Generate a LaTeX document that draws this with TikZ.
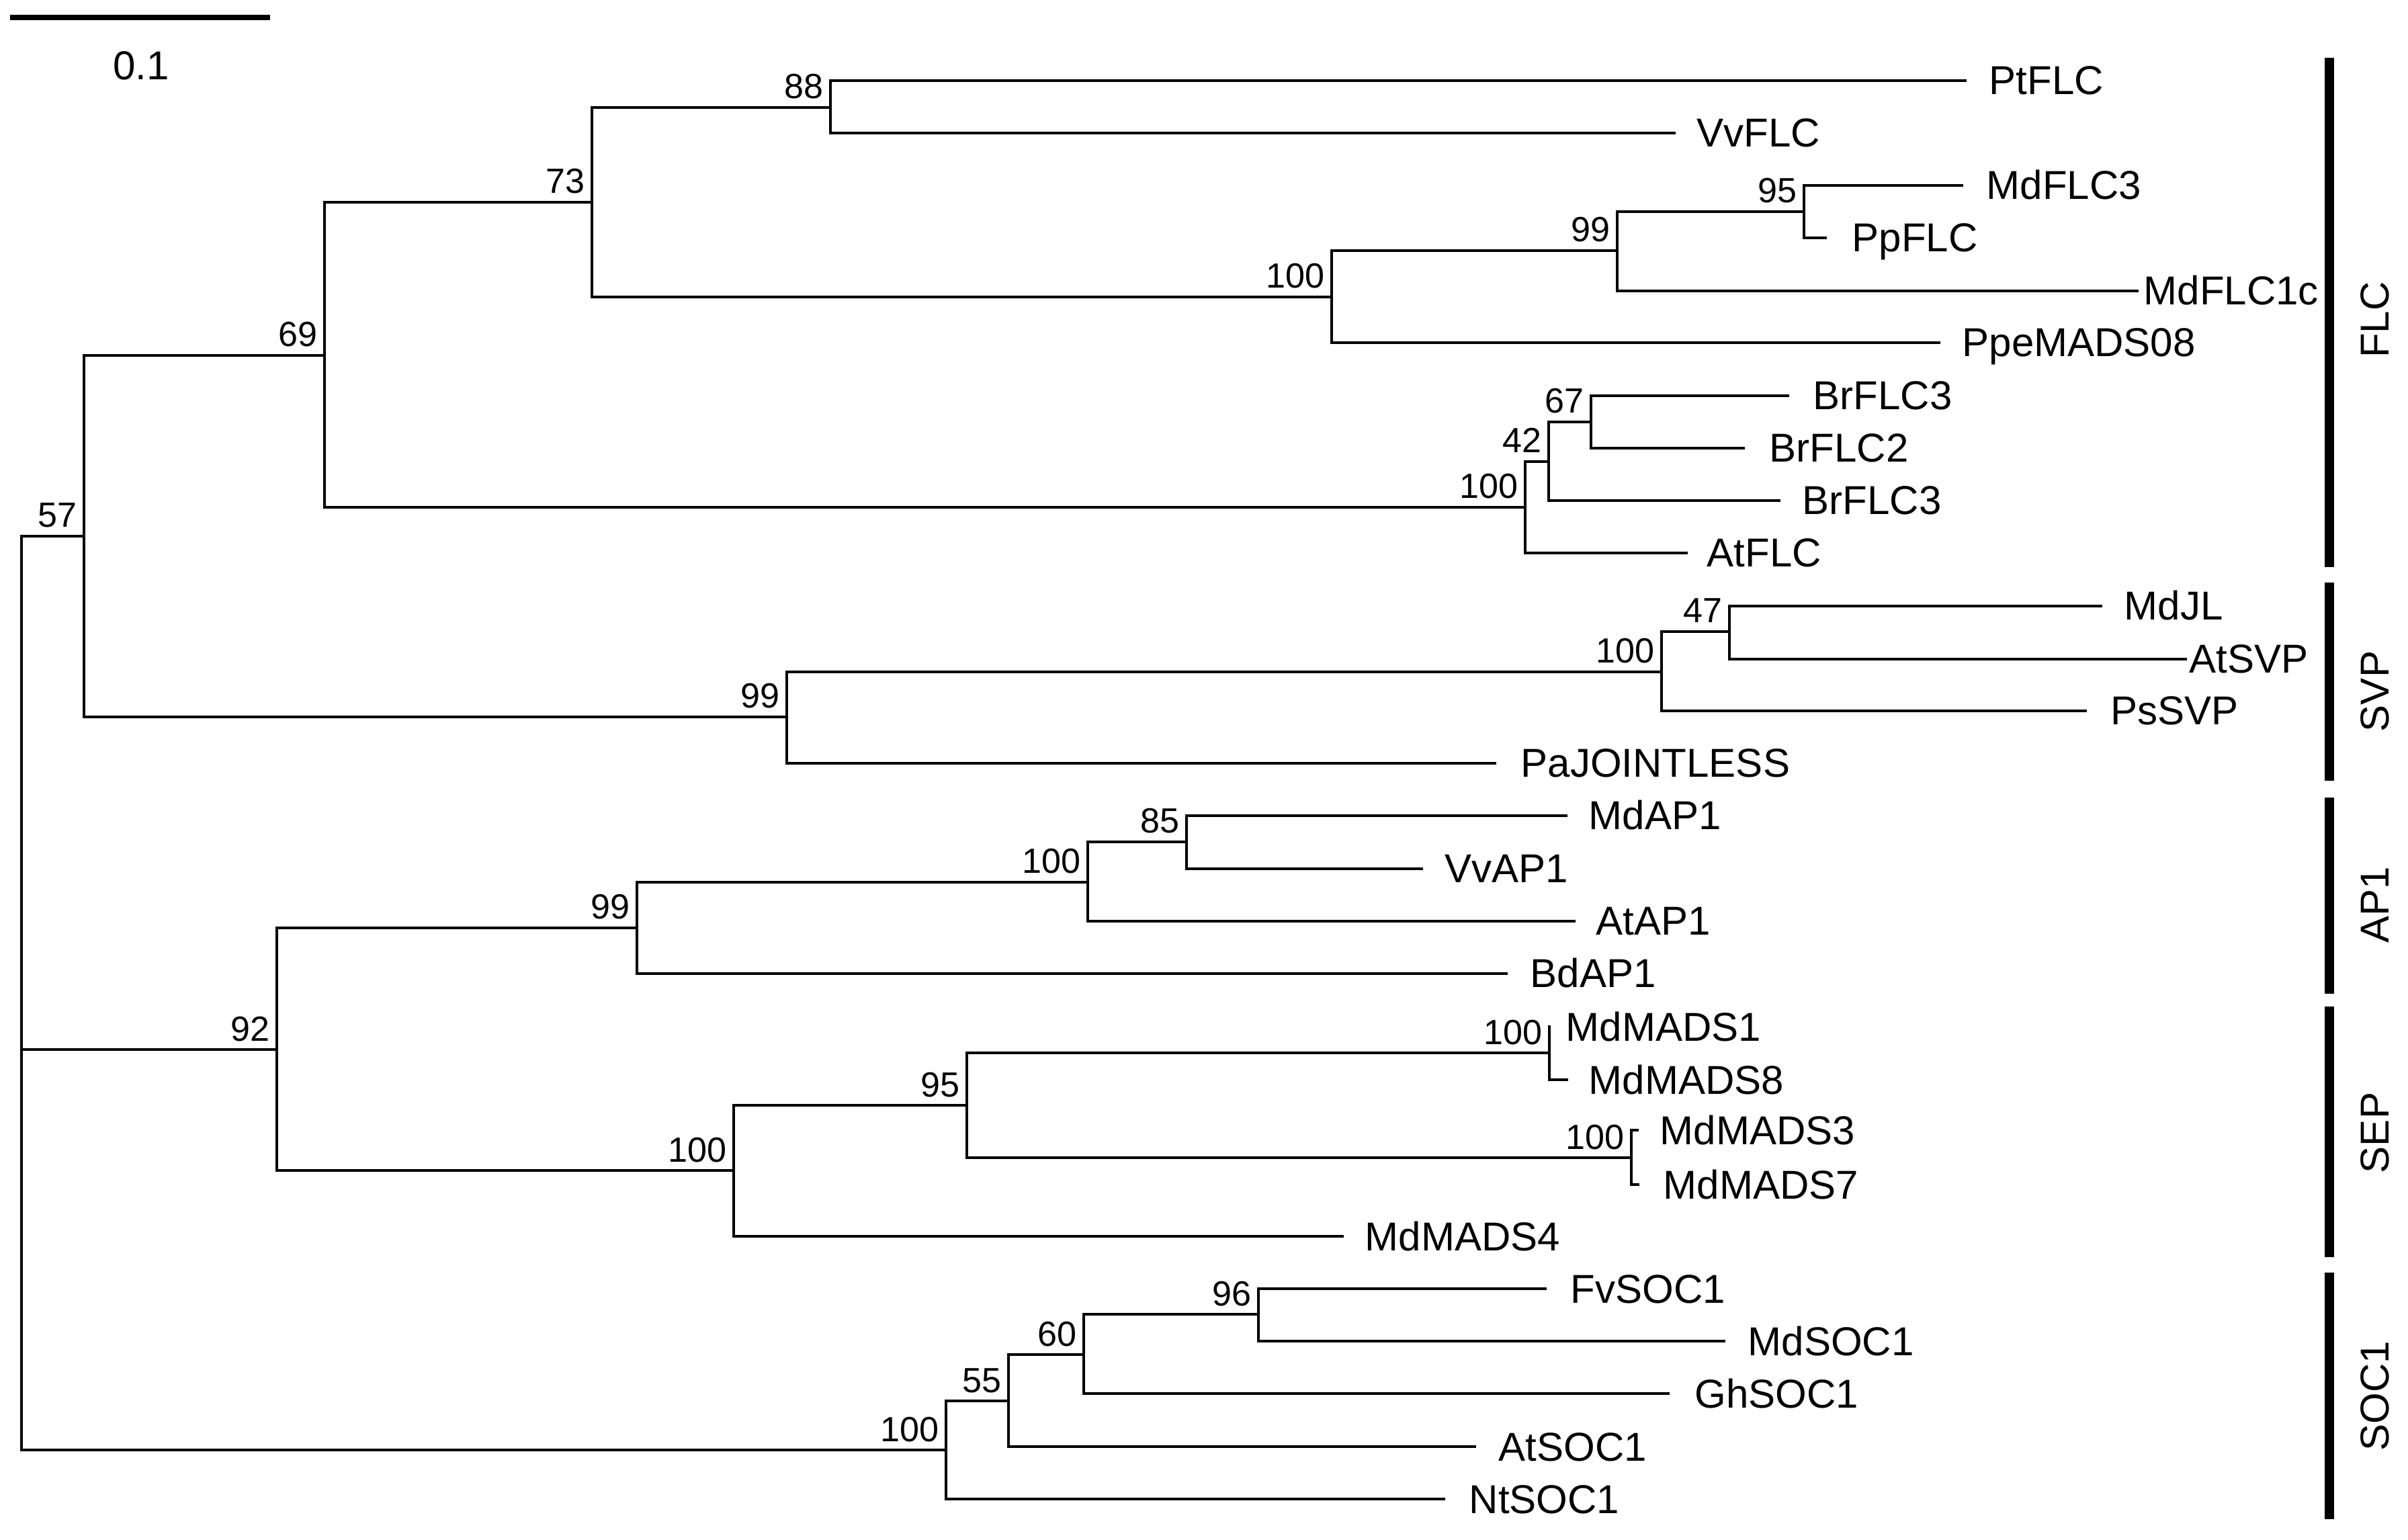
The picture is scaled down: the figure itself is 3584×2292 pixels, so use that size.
\documentclass[tikz,border=0pt]{standalone}
\usepackage{fontspec}
\setmainfont{Liberation Sans}
\newcommand\leaffont{\fontsize{17.07}{20}\selectfont}
\newcommand\bsfont{\fontsize{14.8}{17}\selectfont}
\tikzset{
  branch/.style={line width=1.3pt, line join=miter, line cap=rect},
  scalebar/.style={line width=2.3pt},
  cladebar/.style={line width=3.9pt},
  leaflab/.style={anchor=base west, inner sep=0pt, font=\leaffont},
  bslab/.style={anchor=base east, inner sep=0pt, font=\bsfont},
  cladelab/.style={rotate=90, inner sep=0pt, font=\leaffont},
}
\newcommand\leaf[5]{%
  \coordinate (#1) at (#2,#3);
  \node[leaflab] (#1L) at (#4-3,#3+21) {#5};}
\newcommand\bsl[2]{\node[bslab] (#1B) at ([shift={(-10,-13)}]#1) {#2};}
\begin{document}
\begin{tikzpicture}[x=0.01cm, y=-0.01cm]
\useasboundingbox (0,0) rectangle (3584,2292);
% scale bar
\coordinate (sbL) at (15,26);
\coordinate (sbR) at (402,26);
\draw[scalebar] (sbL) -- (sbR);
\node[anchor=base, inner sep=0pt, font=\leaffont] (sbT) at (210,119) {0.1};
% internal nodes
\coordinate (root) at (32,1562);
\coordinate (n57) at (125,798);
\coordinate (n69) at (483,529);
\coordinate (n73) at (881,301);
\coordinate (n88) at (1236,160);
\coordinate (n100f) at (1982,442);
\coordinate (n99f) at (2407,373);
\coordinate (n95f) at (2685,315);
\coordinate (n100b) at (2270,755);
\coordinate (n42) at (2305,687);
\coordinate (n67) at (2368,628);
\coordinate (n99s) at (1171,1067);
\coordinate (n100s) at (2473,1000);
\coordinate (n47) at (2574,940);
\coordinate (n92) at (412,1562);
\coordinate (n99a) at (948,1381);
\coordinate (n100a) at (1619,1313);
\coordinate (n85) at (1766,1253);
\coordinate (n100sep) at (1092,1742);
\coordinate (n95s) at (1439,1645);
\coordinate (n100ma) at (2306,1567);
\coordinate (n100mb) at (2428,1723);
\coordinate (nsoc) at (1408,2158);
\coordinate (n55) at (1501,2085);
\coordinate (n60) at (1613,2016);
\coordinate (n96) at (1873,1956);
% leaves: name, tip x, y, label x, text
\leaf{PtFLC}{2925}{120}{2963}{PtFLC}
\leaf{VvFLC}{2492}{198}{2528}{VvFLC}
\leaf{MdFLCiii}{2920}{276}{2959}{MdFLC3}
\leaf{PpFLC}{2717}{354}{2759}{PpFLC}
\leaf{MdFLCic}{3181}{433}{3193}{MdFLC1c}
\leaf{PpeMADS}{2886}{510}{2923}{PpeMADS08}
\leaf{BrFLCa}{2661}{589}{2701}{BrFLC3}
\leaf{BrFLCb}{2595}{667}{2636}{BrFLC2}
\leaf{BrFLCc}{2648}{745}{2685}{BrFLC3}
\leaf{AtFLC}{2510}{823}{2543}{AtFLC}
\leaf{MdJL}{3127}{902}{3164}{MdJL}
\leaf{AtSVP}{3253}{981}{3261}{AtSVP}
\leaf{PsSVP}{3104}{1058}{3144}{PsSVP}
\leaf{PaJ}{2225}{1136}{2266}{PaJOINTLESS}
\leaf{MdAP}{2331}{1214}{2367}{MdAP1}
\leaf{VvAP}{2116}{1293}{2153}{VvAP1}
\leaf{AtAP}{2343}{1371}{2378}{AtAP1}
\leaf{BdAP}{2242}{1449}{2280}{BdAP1}
\leaf{MdMi}{2306}{1528}{2333}{MdMADS1}
\leaf{MdMviii}{2332}{1607}{2367}{MdMADS8}
\leaf{MdMiii}{2437}{1682}{2473}{MdMADS3}
\leaf{MdMvii}{2438}{1763}{2478}{MdMADS7}
\leaf{MdMiv}{1998}{1840}{2034}{MdMADS4}
\leaf{FvSOC}{2300}{1918}{2340}{FvSOC1}
\leaf{MdSOC}{2566}{1996}{2604}{MdSOC1}
\leaf{GhSOC}{2483}{2074}{2525}{GhSOC1}
\leaf{AtSOC}{2195}{2153}{2233}{AtSOC1}
\leaf{NtSOC}{2149}{2231}{2189}{NtSOC1}
% branches
\draw[branch] (root) |- (n57);
\draw[branch] (root) |- (n92);
\draw[branch] (root) |- (nsoc);
\draw[branch] (n57) |- (n69);
\draw[branch] (n57) |- (n99s);
\draw[branch] (n69) |- (n73);
\draw[branch] (n69) |- (n100b);
\draw[branch] (n73) |- (n88);
\draw[branch] (n73) |- (n100f);
\draw[branch] (n88) |- (PtFLC);
\draw[branch] (n88) |- (VvFLC);
\draw[branch] (n100f) |- (n99f);
\draw[branch] (n100f) |- (PpeMADS);
\draw[branch] (n99f) |- (n95f);
\draw[branch] (n99f) |- (MdFLCic);
\draw[branch] (n95f) |- (MdFLCiii);
\draw[branch] (n95f) |- (PpFLC);
\draw[branch] (n100b) |- (n42);
\draw[branch] (n100b) |- (AtFLC);
\draw[branch] (n42) |- (n67);
\draw[branch] (n42) |- (BrFLCc);
\draw[branch] (n67) |- (BrFLCa);
\draw[branch] (n67) |- (BrFLCb);
\draw[branch] (n99s) |- (n100s);
\draw[branch] (n99s) |- (PaJ);
\draw[branch] (n100s) |- (n47);
\draw[branch] (n100s) |- (PsSVP);
\draw[branch] (n47) |- (MdJL);
\draw[branch] (n47) |- (AtSVP);
\draw[branch] (n92) |- (n99a);
\draw[branch] (n92) |- (n100sep);
\draw[branch] (n99a) |- (n100a);
\draw[branch] (n99a) |- (BdAP);
\draw[branch] (n100a) |- (n85);
\draw[branch] (n100a) |- (AtAP);
\draw[branch] (n85) |- (MdAP);
\draw[branch] (n85) |- (VvAP);
\draw[branch] (n100sep) |- (n95s);
\draw[branch] (n100sep) |- (MdMiv);
\draw[branch] (n95s) |- (n100ma);
\draw[branch] (n95s) |- (n100mb);
\draw[branch] (n100ma) |- (MdMi);
\draw[branch] (n100ma) |- (MdMviii);
\draw[branch] (n100mb) |- (MdMiii);
\draw[branch] (n100mb) |- (MdMvii);
\draw[branch] (nsoc) |- (n55);
\draw[branch] (nsoc) |- (NtSOC);
\draw[branch] (n55) |- (n60);
\draw[branch] (n55) |- (AtSOC);
\draw[branch] (n60) |- (n96);
\draw[branch] (n60) |- (GhSOC);
\draw[branch] (n96) |- (FvSOC);
\draw[branch] (n96) |- (MdSOC);
% bootstrap values
\bsl{n57}{57}
\bsl{n69}{69}
\bsl{n73}{73}
\bsl{n88}{88}
\bsl{n100f}{100}
\bsl{n99f}{99}
\bsl{n95f}{95}
\bsl{n100b}{100}
\bsl{n42}{42}
\bsl{n67}{67}
\bsl{n99s}{99}
\bsl{n100s}{100}
\bsl{n47}{47}
\bsl{n92}{92}
\bsl{n99a}{99}
\bsl{n100a}{100}
\bsl{n85}{85}
\bsl{n100sep}{100}
\bsl{n95s}{95}
\bsl{n100ma}{100}
\bsl{n100mb}{100}
\bsl{nsoc}{100}
\bsl{n55}{55}
\bsl{n60}{60}
\bsl{n96}{96}
% clade bars
\coordinate (flcT) at (3467,86);   \coordinate (flcB) at (3467,844);
\coordinate (svpT) at (3467,867);  \coordinate (svpB) at (3467,1162);
\coordinate (apT) at (3467,1187);  \coordinate (apB) at (3467,1479);
\coordinate (sepT) at (3467,1498); \coordinate (sepB) at (3467,1871);
\coordinate (socT) at (3467,1894); \coordinate (socB) at (3467,2261);
\draw[cladebar] (flcT) -- (flcB);
\draw[cladebar] (svpT) -- (svpB);
\draw[cladebar] (apT) -- (apB);
\draw[cladebar] (sepT) -- (sepB);
\draw[cladebar] (socT) -- (socB);
\node[cladelab] (cFLC) at (3535,476) {FLC};
\node[cladelab] (cSVP) at (3535,1029) {SVP};
\node[cladelab] (cAP) at (3535,1347) {AP1};
\node[cladelab] (cSEP) at (3535,1686) {SEP};
\node[cladelab] (cSOC) at (3535,2078) {SOC1};
\end{tikzpicture}
\end{document}
